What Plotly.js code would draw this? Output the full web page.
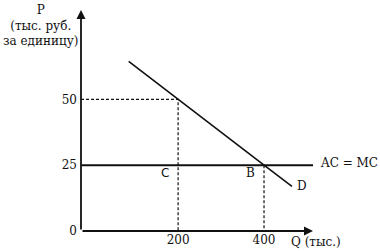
<!DOCTYPE html>
<html><head><meta charset="utf-8">
<script src="https://cdn.plot.ly/plotly-3.0.1.min.js"></script>
<style>body{margin:0;background:#fff}#c{width:380px;height:251px}</style>
</head><body><div id="c"></div>
<script>
const demandQ = [85, 200, 400, 465];
const demandP = [64.5, 50, 25, 17];
const costQ = [-26, 514];
const costP = [25, 25];
const xTicks = [200, 400];
const yTicks = [0, 25, 50];
const eqQ = [200, 400];
const eqP = [50, 25];

const serif = "DejaVu Serif, Liberation Serif, serif";
const sans = "DejaVu Sans, sans-serif";
const L = 81, T = 10, W = 232, H = 221;
const px = v => (v - L) / W;
const py = v => (T + H - v) / H;

const traces = [
  {x: demandQ, y: demandP, mode: 'lines', line: {color: '#111', width: 1.6}, hoverinfo: 'skip'},
  {x: costQ, y: costP, mode: 'lines', line: {color: '#111', width: 1.8}, hoverinfo: 'skip'},
  {x: [costQ[0], eqQ[0], eqQ[0]], y: [eqP[0], eqP[0], 0], mode: 'lines', line: {color: '#111', width: 1.2, dash: '3px,2px'}, hoverinfo: 'skip'},
  {x: [eqQ[1], eqQ[1]], y: [eqP[1], 0], mode: 'lines', line: {color: '#111', width: 1.2, dash: '3px,2px'}, hoverinfo: 'skip'}
];
function lbl(x, y, text, anchor, font) {
  return {x: px(x), y: py(y), xref: 'paper', yref: 'paper', xanchor: anchor, yanchor: 'middle', text: text, showarrow: false, font: font};
}
const layout = {
  width: 380, height: 251,
  margin: {l: L, r: 380 - L - W, t: T, b: 251 - T - H},
  showlegend: false,
  paper_bgcolor: '#fff', plot_bgcolor: '#fff',
  font: {family: serif, size: 12, color: '#111'},
  xaxis: {range: [-26, 514], tickvals: xTicks, ticktext: xTicks.map(String), showgrid: false, zeroline: false, showline: false, ticks: '', tickfont: {family: serif, size: 12}},
  yaxis: {range: [0, 84], tickvals: yTicks, ticktext: yTicks.map(String), showgrid: false, zeroline: false, showline: false, ticks: '', ticklabelstandoff: 3, tickfont: {family: serif, size: 12}},
  annotations: [
    {x: 514, y: 0, ax: -26, ay: 0, axref: 'x', ayref: 'y', xref: 'x', yref: 'y', text: '', showarrow: true, arrowhead: 2, arrowsize: 1, arrowwidth: 1.8, arrowcolor: '#111'},
    {x: -26, y: 84, ax: -26, ay: 0, axref: 'x', ayref: 'y', xref: 'x', yref: 'y', text: '', showarrow: true, arrowhead: 2, arrowsize: 1, arrowwidth: 1.8, arrowcolor: '#111'},
    lbl(318, 163, 'AC = MC', 'left', {family: serif, size: 12}),
    lbl(289, 242, 'Q (тыс.)', 'left', {family: serif, size: 12}),
    lbl(165, 173, 'C', 'center', {family: sans, size: 12}),
    lbl(250, 173, 'B', 'center', {family: serif, size: 12}),
    lbl(302, 186, 'D', 'center', {family: serif, size: 12}),
    lbl(40, 26, 'P<br>(тыс. руб.<br>за единицу)', 'center', {family: serif, size: 12})
  ]
};
Plotly.newPlot('c', traces, layout, {displayModeBar: false, staticPlot: true});
</script></body></html>
